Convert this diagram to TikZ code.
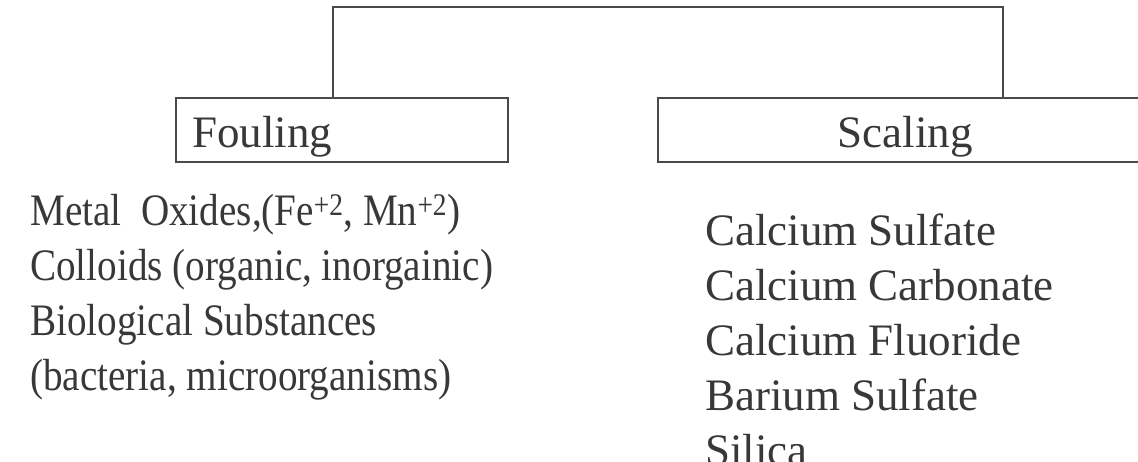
\documentclass[tikz,border=0pt]{standalone}
\usepackage{fontspec}
\setmainfont{Liberation Serif}
\usepackage{tikz}
\definecolor{inkgray}{HTML}{383838}
\definecolor{linegray}{HTML}{4A4A4A}

\begin{document}
\begin{tikzpicture}[
  x=1pt, y=-1pt,
  catbox/.style={draw=linegray, line width=1.8pt, minimum height=64pt, inner ysep=0pt, text height=34pt, text depth=0pt, font=\fontsize{45}{54}\selectfont, text=inkgray},
  item/.style={anchor=base west, inner sep=0pt, font=\fontsize{45}{54}\selectfont, text=inkgray},
  link/.style={draw=linegray, line width=1.8pt}
]
  \useasboundingbox (0,0) rectangle (1138,461);
  \clip (0,0) rectangle (1138,461);

  % Category boxes
  \node[catbox, minimum width=332pt, text width=300pt, align=left, inner xsep=16pt] (fouling) at (342,130) {Fouling};
  \node[catbox, minimum width=494pt, align=center] (scaling) at (905,130) {Scaling};

  % Tree connector
  \draw[link] ([xshift=-9pt]fouling.north) -- ++(0,-90) -| ([xshift=98pt]scaling.north);

  % Fouling agents
  \node[item] (f1) at (30,225) {\scalebox{0.87}[1]{Metal\ \ Oxides,(Fe\textsuperscript{+2}, Mn\textsuperscript{+2})}};
  \node[item] (f2) at (30,280) {\scalebox{0.87}[1]{Colloids (organic, inorgainic)}};
  \node[item] (f3) at (30,335) {\scalebox{0.87}[1]{Biological Substances}};
  \node[item] (f4) at (30,390) {\scalebox{0.87}[1]{(bacteria, microorganisms)}};

  % Scaling agents
  \node[item] (s1) at (705,245) {Calcium Sulfate};
  \node[item] (s2) at (705,300) {Calcium Carbonate};
  \node[item] (s3) at (705,355) {Calcium Fluoride};
  \node[item] (s4) at (705,410) {Barium Sulfate};
  \node[item] (s5) at (705,465) {Silica};

\end{tikzpicture}
\end{document}
